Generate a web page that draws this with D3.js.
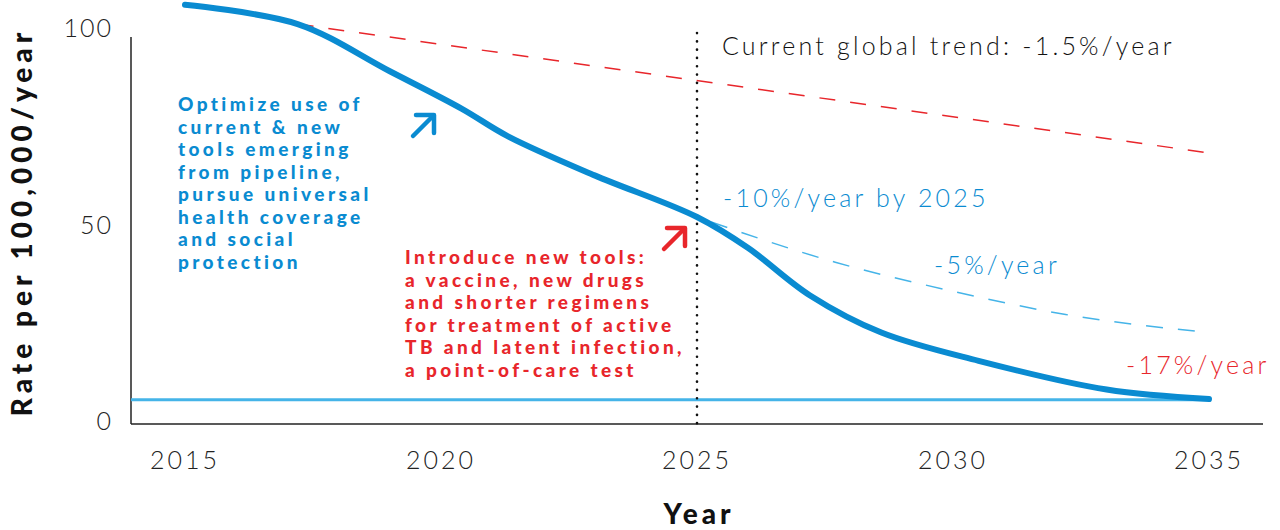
<!DOCTYPE html>
<html>
<head>
  <meta charset="utf-8">
  <title>TB incidence rate</title>
  <script src="https://d3js.org/d3.v7.min.js"></script>
  <style>
    body { margin: 0; background: #fff; }
    text { font-family: Lato, "Open Sans", sans-serif; }
  </style>
</head>
<body>
  <div id="chart"></div>
  <script>
    // data
    var years = [2015, 2017.2, 2019, 2020.4, 2021.3, 2023, 2025, 2026, 2027.2, 2028.6, 2030.5, 2033, 2035];
    var rate = [105.9, 101.0, 89.0, 79.5, 72.5, 62.5, 51.9, 44.0, 32.0, 22.5, 15.3, 8.0, 5.6];
    var trendYears = [2017.2, 2035];
    var trendRate = [101.0, 68.2];
    var fiveYears = [2025, 2027.7, 2030, 2032.2, 2035];
    var fiveRate = [51.9, 40.4, 33.0, 27.1, 22.5];
    var target = 5.4;
    var milestone = 2025;
    var xTicks = [2015, 2020, 2025, 2030, 2035];
    var yTicks = [0, 50, 100];

    var blue = "#0a8bd1", lightBlue = "#45b4e8", red = "#e8262b";

    var width = 1280, height = 530;
    var svg = d3.select("#chart").append("svg")
      .attr("width", width)
      .attr("height", height);

    var x = d3.scaleLinear().domain([2015, 2035]).range([185, 1209]);
    var y = d3.scaleLinear().domain([0, 100]).range([421, 28]);

    // axis lines (no ticks)
    var axisLeft = 131, axisBottom = 424;
    svg.append("line")
      .attr("x1", axisLeft).attr("x2", axisLeft)
      .attr("y1", 37).attr("y2", axisBottom)
      .attr("stroke", "#222").attr("stroke-width", 1.5);
    svg.append("line")
      .attr("x1", axisLeft).attr("x2", 1263)
      .attr("y1", axisBottom).attr("y2", axisBottom)
      .attr("stroke", "#222").attr("stroke-width", 1.5);

    // y tick labels
    svg.selectAll(".ylab").data(yTicks).enter().append("text")
      .attr("class", "ylab")
      .attr("x", 113)
      .attr("y", function (d) { return y(d); })
      .attr("dy", "0.36em")
      .attr("text-anchor", "end")
      .attr("font-size", 25).attr("font-weight", 300)
      .attr("letter-spacing", 2)
      .attr("fill", "#222")
      .text(function (d) { return d; });

    // x tick labels
    svg.selectAll(".xlab").data(xTicks).enter().append("text")
      .attr("class", "xlab")
      .attr("x", function (d) { return x(d); })
      .attr("y", 469)
      .attr("text-anchor", "middle")
      .attr("font-size", 25).attr("font-weight", 300)
      .attr("letter-spacing", 3)
      .attr("fill", "#222")
      .text(function (d) { return d; });

    // axis titles
    svg.append("text")
      .attr("x", 699).attr("y", 524)
      .attr("text-anchor", "middle")
      .attr("font-size", 28).attr("font-weight", 900)
      .attr("letter-spacing", 4)
      .attr("fill", "#111")
      .text("Year");
    svg.append("text")
      .attr("transform", "translate(32,222) rotate(-90)")
      .attr("text-anchor", "middle")
      .attr("font-size", 28).attr("font-weight", 900)
      .attr("letter-spacing", 5)
      .attr("fill", "#111")
      .text("Rate per 100,000/year");

    // target line
    svg.append("line")
      .attr("x1", axisLeft).attr("x2", x(2035))
      .attr("y1", y(target)).attr("y2", y(target))
      .attr("stroke", lightBlue).attr("stroke-width", 3);

    // 2025 milestone
    svg.append("line")
      .attr("x1", x(milestone)).attr("x2", x(milestone))
      .attr("y1", 33).attr("y2", axisBottom)
      .attr("stroke", "#111").attr("stroke-width", 2.6)
      .attr("stroke-linecap", "round")
      .attr("stroke-dasharray", "0.1,8.2");

    var line = d3.line()
      .x(function (d) { return x(d[0]); })
      .y(function (d) { return y(d[1]); });

    // current trend, red dashed
    svg.append("path")
      .datum(d3.zip(trendYears, trendRate))
      .attr("d", line)
      .attr("fill", "none")
      .attr("stroke", red).attr("stroke-width", 1.5)
      .attr("stroke-dasharray", "16,15");

    // -5%/year, light blue dashed
    svg.append("path")
      .datum(d3.zip(fiveYears, fiveRate))
      .attr("d", line.curve(d3.curveMonotoneX))
      .attr("fill", "none")
      .attr("stroke", lightBlue).attr("stroke-width", 1.5)
      .attr("stroke-dasharray", "17,15")
      .attr("stroke-dashoffset", 17);

    // main projection
    svg.append("path")
      .datum(d3.zip(years, rate))
      .attr("d", line.curve(d3.curveCatmullRom.alpha(0.5)))
      .attr("fill", "none")
      .attr("stroke", blue).attr("stroke-width", 6)
      .attr("stroke-linecap", "round")
      .attr("stroke-linejoin", "round");

    // labels on the lines
    function label(t, px, py, color) {
      svg.append("text")
        .attr("x", px).attr("y", py)
        .attr("font-size", 25).attr("font-weight", 300)
        .attr("letter-spacing", 3.2)
        .attr("fill", color)
        .text(t);
    }
    label("Current global trend: -1.5%/year", 722, 55, "#111");
    label("-10%/year by 2025", 723, 207, blue);
    label("-5%/year", 934, 274, blue);
    label("-17%/year", 1126, 374, red);

    // bold annotations
    function block(lines, px, py, color) {
      var t = svg.append("text")
        .attr("font-size", 19).attr("font-weight", 900)
        .attr("letter-spacing", 3.4)
        .attr("fill", color);
      lines.forEach(function (s, i) {
        t.append("tspan").attr("x", px).attr("y", py + i * 22.5).text(s);
      });
    }
    block(["Optimize use of", "current & new", "tools emerging", "from pipeline,",
           "pursue universal", "health coverage", "and social", "protection"], 178, 111, blue);
    block(["Introduce new tools:", "a vaccine, new drugs", "and shorter regimens",
           "for treatment of active", "TB and latent infection,", "a point-of-care test"], 405, 264, red);

    // arrows
    function arrow(px, py, color) {
      var g = svg.append("g")
        .attr("fill", "none").attr("stroke", color).attr("stroke-width", 4.5)
        .attr("stroke-linecap", "round").attr("stroke-linejoin", "round");
      g.append("line").attr("x1", px).attr("y1", py + 21).attr("x2", px + 20).attr("y2", py + 1);
      g.append("polyline").attr("points", [[px + 3, py], [px + 21, py], [px + 21, py + 18]].join(" "));
    }
    arrow(413, 115, blue);
    arrow(664, 228, red);
  </script>
</body>
</html>
